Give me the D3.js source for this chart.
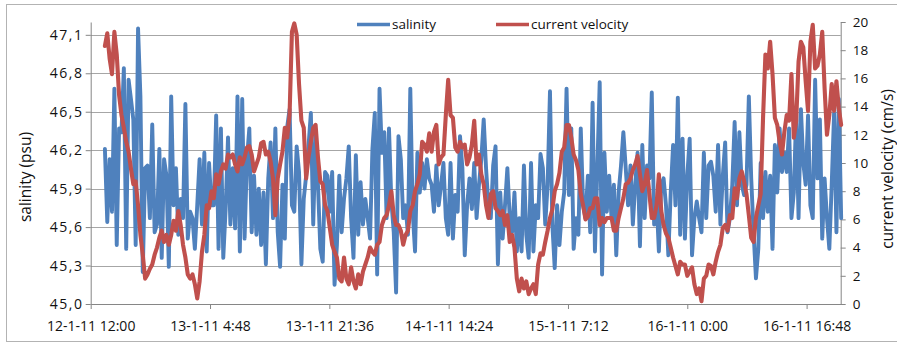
<!DOCTYPE html>
<html>
<head>
<meta charset="utf-8">
<script src="https://cdn.jsdelivr.net/npm/d3@7"></script>
<style>
  html, body { margin: 0; padding: 0; background: #fff; }
  svg { display: block; font-family: "Open Sans", sans-serif; }
</style>
</head>
<body>
<svg id="chart" width="897" height="343"></svg>
<script>
// Time grid of the records: first sample and sampling step
const seriesStart = "2011-01-12T14:00:00";
const stepMinutes = 20;

// Salinity (psu), one value per 20-minute step
const salinity = [
  46.21, 45.64, 46.13, 45.72, 46.68, 45.46, 46.37, 46.34, 46.84, 45.43,
  46.75, 46.60, 46.44, 45.46, 47.15, 46.62, 45.25, 46.06, 46.08, 45.67,
  46.40, 45.56, 45.62, 46.21, 45.36, 46.13, 46.00, 45.29, 46.62, 45.77,
  46.06, 45.54, 45.82, 45.67, 46.56, 45.51, 45.72, 45.67, 45.43, 45.77,
  46.13, 45.62, 46.18, 45.41,
  46.10, 45.77, 45.77, 46.47, 45.43, 46.37, 45.36, 45.74, 46.30, 45.62,
  46.06, 45.59, 46.62, 45.41, 46.60, 45.51, 46.13, 46.37, 45.56, 46.00,
  45.54, 45.90, 45.46, 45.87, 45.31, 45.98, 46.26, 45.67, 46.37, 45.56,
  45.29, 45.93, 45.51, 46.38, 46.52, 45.77, 45.72, 46.23, 46.03, 45.31,
  45.82, 46.00, 46.23, 46.49, 45.62,
  46.31, 45.93, 45.43, 45.33, 46.03, 46.00, 45.72, 46.03, 45.15, 45.46,
  46.00, 45.56, 45.82, 45.98, 46.23, 45.67, 45.36, 46.16, 45.54, 45.95,
  45.62, 45.82, 45.67, 45.51, 46.21, 46.49, 45.23, 46.68, 46.18, 46.34,
  45.67, 46.37, 45.80, 45.56, 45.09, 46.31, 46.13, 45.67, 45.77, 45.54,
  46.68, 45.72, 45.41, 46.18, 45.87,
  46.10, 45.90, 46.13, 45.98, 45.93, 45.72, 46.08, 45.77, 45.93, 46.10,
  45.67, 45.54, 46.10, 45.51, 45.85, 45.72, 46.31, 46.06, 45.38, 45.77,
  45.98, 45.74, 46.10, 45.67, 45.93, 46.13, 46.44, 46.06, 45.77, 45.67,
  46.08, 46.23, 45.31, 45.87, 45.51, 45.77, 46.06, 45.67, 45.56, 45.87,
  45.41, 45.67, 45.41, 46.08,
  45.54, 45.36, 46.10, 45.41, 45.77, 45.67, 46.17, 46.06, 45.62, 45.93,
  46.66, 45.62, 45.28, 45.77, 45.46, 45.72, 45.87, 46.68, 45.85, 46.37,
  45.43, 45.67, 45.54, 46.37, 45.77, 45.67, 46.00, 45.56, 46.57, 45.41,
  46.06, 46.73, 45.23, 46.18, 45.72, 46.00, 45.67, 45.93, 45.38, 45.87,
  46.08, 46.34, 46.06, 45.77,
  46.08, 45.62, 45.93, 46.18, 45.45, 46.24, 45.67, 46.08, 45.98, 46.65,
  45.62, 45.82, 45.41, 45.93, 45.98, 45.77, 45.38, 45.87, 46.24, 45.77,
  46.61, 45.54, 46.29, 45.51, 46.00, 46.29, 45.38, 45.67, 45.80, 45.67,
  45.56, 46.18, 45.67, 46.08, 46.11, 46.00, 45.72, 46.24, 45.62, 46.00,
  46.26, 45.56, 45.67, 45.93, 46.42,
  45.77, 46.34, 45.93, 45.85, 45.93, 46.62, 45.98, 45.56, 45.20, 45.43,
  46.10, 45.67, 46.03, 45.72, 46.00, 45.43, 46.24, 45.87, 46.37, 46.03,
  46.18, 46.03, 46.37, 45.67, 45.87, 46.49, 45.67, 46.52, 46.10, 45.93,
  46.47, 45.77, 45.67, 46.75, 45.98, 46.44, 45.51, 45.98, 45.67, 45.43,
  45.93, 46.49, 45.56, 46.60, 45.67
];

// Current velocity (cm/s), same time grid
const velocity = [
  18.3, 19.2, 17.4, 16.3, 19.3, 17.7, 14.8, 13.4, 12.5, 11.5,
  10.8, 9.6, 8.5, 8.7, 7.0, 4.9, 3.5, 1.8, 2.1, 2.5,
  2.8, 3.5, 4.0, 4.7, 5.2, 4.4, 4.9, 4.2, 4.9, 5.9,
  5.2, 6.6, 5.6, 4.2, 3.3, 2.1, 1.8, 2.1, 1.4, 0.4,
  1.6, 3.7, 4.9, 7.0,
  6.8, 8.0, 7.5, 9.2, 8.5, 9.4, 9.9, 9.6, 10.6, 10.4,
  10.6, 9.9, 9.4, 10.4, 9.9, 10.4, 11.1, 11.2, 10.6, 9.4,
  9.9, 10.4, 11.4, 11.5, 10.6, 10.8, 10.1, 8.9, 6.3, 8.9,
  9.9, 10.8, 12.5, 11.8, 13.4, 19.3, 19.9, 19.1, 15.6, 13.0,
  12.5, 8.9, 10.4, 11.5, 12.5,
  12.7, 10.4, 8.7, 8.5, 7.0, 6.6, 5.4, 4.2, 3.7, 3.3,
  1.8, 1.6, 3.3, 1.8, 1.4, 2.6, 1.6, 1.1, 2.1, 1.4,
  2.3, 2.8, 3.3, 4.0, 3.7, 3.5, 4.2, 4.4, 5.6, 6.1,
  6.3, 7.0, 8.0, 6.3, 5.6, 5.6, 5.2, 4.2, 4.9, 5.2,
  6.6, 7.0, 8.0, 8.5, 9.2,
  11.5, 11.3, 10.8, 12.1, 10.8, 12.2, 12.7, 9.9, 10.4, 10.6,
  13.4, 15.9, 13.4, 13.2, 11.1, 10.8, 11.5, 11.1, 11.3, 9.9,
  10.4, 11.3, 13.0, 9.9, 10.6, 9.2, 8.5, 7.0, 6.1, 7.8,
  8.0, 6.8, 6.6, 6.3, 6.6, 5.6, 6.3, 4.4, 4.9, 4.0,
  1.8, 0.9, 1.8, 1.1,
  1.6, 0.7, 1.1, 1.4, 0.7, 2.8, 3.6, 3.5, 4.4, 5.2,
  6.1, 6.7, 8.0, 8.5, 9.3, 10.8, 11.1, 12.7, 12.7, 11.8,
  10.6, 10.2, 9.5, 7.8, 7.0, 6.0, 6.2, 6.8, 6.8, 7.5,
  7.5, 5.6, 6.1, 5.8, 6.1, 6.1, 6.1, 5.2, 5.2, 6.1,
  6.8, 7.5, 8.5, 8.6,
  8.9, 9.5, 9.9, 10.5, 9.2, 8.0, 8.5, 9.5, 7.8, 6.1,
  6.1, 7.0, 9.2, 6.6, 5.6, 5.0, 4.7, 4.0, 3.3, 2.7,
  2.1, 3.0, 2.8, 2.8, 2.0, 2.3, 2.6, 1.4, 0.7, 1.1,
  0.2, 1.8, 2.0, 2.8, 2.7, 2.1, 3.0, 3.7, 4.2, 5.4,
  5.6, 5.2, 6.3, 6.1, 8.2,
  7.5, 8.9, 9.4, 8.7, 7.8, 6.3, 4.7, 4.4, 6.1, 7.0,
  7.8, 13.2, 17.7, 16.7, 18.6, 16.3, 13.2, 12.7, 11.5, 10.6,
  12.2, 13.4, 13.0, 16.3, 11.8, 13.0, 17.2, 18.6, 18.2, 15.8,
  13.7, 18.6, 19.8, 16.7, 16.9, 17.7, 19.3, 15.3, 12.0, 13.4,
  15.6, 13.7, 15.8, 13.9, 12.7
];

// Axis ticks and text
const xDomain = ["2011-01-12T12:00:00", "2011-01-16T21:36:00"];
const xTicks = [
  "2011-01-12T12:00:00", "2011-01-13T04:48:00", "2011-01-13T21:36:00",
  "2011-01-14T14:24:00", "2011-01-15T07:12:00", "2011-01-16T00:00:00",
  "2011-01-16T16:48:00"
];
const salinityTicks = [45.0, 45.3, 45.6, 45.9, 46.2, 46.5, 46.8, 47.1];
const salinityDomain = [45.0, 47.2];
const velocityTicks = [0, 2, 4, 6, 8, 10, 12, 14, 16, 18, 20];
const velocityDomain = [0, 20];
const seriesNames = ["salinity", "current velocity"];
const axisTitles = ["salinity (psu)", "current velocity (cm/s)"];
const colors = ["#4f81bd", "#c0504d"];

const svg = d3.select("#chart");
const plot = { left: 90.7, right: 840.7, top: 22, bottom: 304 };

// Outer chart frame
svg.append("rect")
  .attr("x", 6.5).attr("y", 4.5)
  .attr("width", 900).attr("height", 337)
  .attr("fill", "#fff").attr("stroke", "#b3b3b3").attr("stroke-width", 1);

const t0 = new Date(seriesStart);
const times = salinity.map((_, i) => new Date(t0.getTime() + i * stepMinutes * 60000));

const x = d3.scaleTime()
  .domain(xDomain.map(d => new Date(d)))
  .range([plot.left, plot.right]);
const yS = d3.scaleLinear().domain(salinityDomain).range([plot.bottom, plot.top]);
const yV = d3.scaleLinear().domain(velocityDomain).range([plot.bottom, plot.top]);

const commaLocale = d3.formatLocale({ decimal: ",", thousands: ".", grouping: [3], currency: ["", ""] });
const fmtS = commaLocale.format(".1f");
const fmtX = d3.timeFormat("%-d-%-m-%y %-H:%M");

// Horizontal gridlines on the salinity ticks
svg.append("g")
  .selectAll("line")
  .data(salinityTicks.filter(d => d > salinityDomain[0]))
  .join("line")
  .attr("x1", plot.left).attr("x2", plot.right)
  .attr("y1", d => Math.round(yS(d)) + 0.5).attr("y2", d => Math.round(yS(d)) + 0.5)
  .attr("stroke", "#a6a6a6").attr("stroke-width", 1);

function styleAxis(g, size) {
  g.selectAll("path.domain").attr("stroke", "#868686");
  g.selectAll(".tick line").attr("stroke", "#868686");
  g.selectAll(".tick text").attr("fill", "#111").style("font-size", size + "px")
    .style("font-family", "'Open Sans', sans-serif");
}

// Left axis: salinity
const gL = svg.append("g").attr("transform", `translate(${plot.left},0)`)
  .call(d3.axisLeft(yS).tickValues(salinityTicks).tickFormat(fmtS)
    .tickSize(5).tickSizeOuter(0).tickPadding(2));
styleAxis(gL, 14);
gL.selectAll(".tick text").style("letter-spacing", "1.6px");

// Right axis: velocity
const gR = svg.append("g").attr("transform", `translate(${plot.right},0)`)
  .call(d3.axisRight(yV).tickValues(velocityTicks).tickFormat(d3.format("d"))
    .tickSize(5).tickSizeOuter(0).tickPadding(7));
styleAxis(gR, 13.5);

// Bottom axis: date/time
const gB = svg.append("g").attr("transform", `translate(0,${plot.bottom})`)
  .call(d3.axisBottom(x).tickValues(xTicks.map(d => new Date(d))).tickFormat(fmtX)
    .tickSize(5).tickSizeOuter(0).tickPadding(12));
styleAxis(gB, 14);

// Series lines
const lineS = d3.line().x((d, i) => x(times[i])).y(d => yS(d));
const lineV = d3.line().x((d, i) => x(times[i])).y(d => yV(d));

svg.append("path").datum(salinity)
  .attr("d", lineS).attr("fill", "none")
  .attr("stroke", colors[0]).attr("stroke-width", 3.9)
  .attr("stroke-linejoin", "round").attr("stroke-linecap", "round");

svg.append("path").datum(velocity)
  .attr("d", lineV).attr("fill", "none")
  .attr("stroke", colors[1]).attr("stroke-width", 4.1)
  .attr("stroke-linejoin", "round").attr("stroke-linecap", "round");

// Axis titles
svg.append("text")
  .attr("transform", "translate(31,177) rotate(-90)")
  .attr("text-anchor", "middle").attr("fill", "#111")
  .style("font-size", "15.5px")
  .text(axisTitles[0]);
svg.append("text")
  .attr("transform", "translate(893,169) rotate(-90)")
  .attr("text-anchor", "middle").attr("fill", "#111")
  .style("font-size", "15.5px")
  .text(axisTitles[1]);

// Legend
const legendItems = [
  { name: seriesNames[0], color: colors[0], x: 357 },
  { name: seriesNames[1], color: colors[1], x: 496 }
];
const lg = svg.append("g").selectAll("g").data(legendItems).join("g")
  .attr("transform", d => `translate(${d.x},24.5)`);
lg.append("line").attr("x1", 0).attr("x2", 33).attr("y1", 0).attr("y2", 0)
  .attr("stroke", d => d.color).attr("stroke-width", 3.6);
lg.append("text").attr("x", 35).attr("y", 0).attr("dy", "0.35em")
  .attr("fill", "#111").style("font-size", "13.5px")
  .text(d => d.name);
</script>
</body>
</html>
